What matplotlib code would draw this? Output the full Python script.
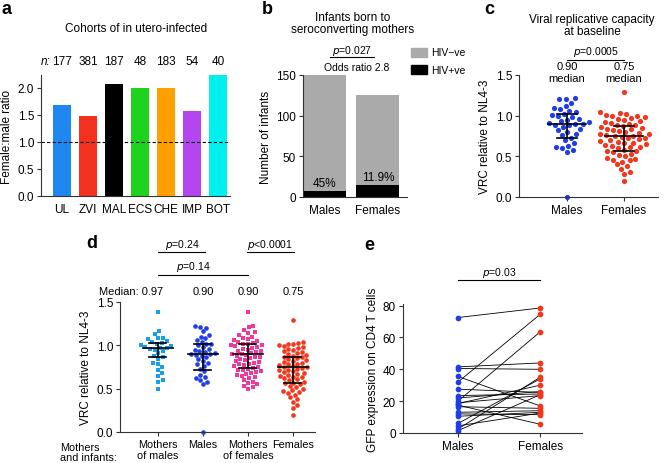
import numpy as np
import matplotlib
matplotlib.use("Agg")
import matplotlib.pyplot as plt
import matplotlib.transforms as mtransforms
from matplotlib.patches import Rectangle

plt.rcParams['font.family'] = ['Liberation Sans', 'DejaVu Sans']
plt.rcParams['axes.linewidth'] = 0.8

# ---------------- data ----------------
# panel a
cohorts = ["UL", "ZVI", "MAL", "ECS", "CHE", "IMP", "BOT"]
cohort_n = [177, 381, 187, 48, 183, 54, 40]
fm_ratio = [1.68, 1.49, 2.07, 2.00, 2.00, 1.57, 2.26]
cohort_colors = ["#1e88f0", "#f2321e", "#000000", "#1ed21e", "#ffa000", "#b446f0", "#00f0f0"]

# panel b
b_groups = ["Males", "Females"]
b_total = [150, 126]
b_pos = [7, 15]
b_pct = ["45%", "11.9%"]

# panel c / d  (VRC values)
vrc_males = [1.22, 1.21, 1.20, 1.16, 1.12, 1.10, 1.08, 1.06, 1.04, 1.02, 1.01, 1.00,
             0.98, 0.96, 0.95, 0.93, 0.92, 0.91, 0.90, 0.90, 0.89, 0.88, 0.86, 0.84,
             0.82, 0.80, 0.78, 0.76, 0.73, 0.70, 0.66, 0.63, 0.62, 0.60, 0.58, 0.55, 0.0]
vrc_females = [1.29, 1.04, 1.03, 1.02, 1.01, 1.00, 0.99, 0.98, 0.97, 0.96, 0.95, 0.93,
               0.92, 0.91, 0.90, 0.89, 0.88, 0.87, 0.86, 0.85, 0.84, 0.83, 0.82, 0.81,
               0.80, 0.79, 0.78, 0.77, 0.76, 0.75, 0.75, 0.74, 0.73, 0.72, 0.71, 0.70,
               0.69, 0.68, 0.67, 0.66, 0.65, 0.64, 0.63, 0.62, 0.61, 0.60, 0.58, 0.57,
               0.56, 0.55, 0.53, 0.52, 0.50, 0.48, 0.47, 0.46, 0.45, 0.43, 0.40, 0.38,
               0.35, 0.31, 0.28, 0.20]
vrc_mothers_m = [1.38, 1.17, 1.13, 1.09, 1.08, 1.07, 1.05, 1.04, 1.03, 1.02, 1.00, 0.99,
                 0.98, 0.97, 0.97, 0.96, 0.95, 0.93, 0.91, 0.88, 0.86, 0.84, 0.80, 0.78,
                 0.75, 0.72, 0.68, 0.65, 0.60, 0.58, 0.50]
vrc_mothers_f = [1.38, 1.22, 1.21, 1.18, 1.15, 1.14, 1.12, 1.10, 1.08, 1.07, 1.06, 1.05,
                 1.04, 1.03, 1.02, 1.01, 1.00, 1.00, 0.99, 0.98, 0.97, 0.96, 0.95, 0.94,
                 0.93, 0.92, 0.91, 0.90, 0.90, 0.89, 0.88, 0.87, 0.86, 0.85, 0.84, 0.83,
                 0.82, 0.81, 0.80, 0.79, 0.78, 0.77, 0.76, 0.75, 0.74, 0.73, 0.72, 0.71,
                 0.70, 0.69, 0.68, 0.67, 0.66, 0.65, 0.63, 0.62, 0.60, 0.58, 0.56, 0.55,
                 0.53, 0.52, 0.50]

c_groups = ["Males", "Females"]
c_median = [0.90, 0.75]
c_q1 = [0.72, 0.56]
c_q3 = [1.02, 0.87]
c_median_txt = ["0.90", "0.75"]

d_groups = ["Mothers\nof males", "Males", "Mothers\nof females", "Females"]
d_median = [0.97, 0.90, 0.90, 0.75]
d_q1 = [0.86, 0.72, 0.74, 0.56]
d_q3 = [1.03, 1.02, 1.01, 0.87]
d_median_txt = ["Median: 0.97", "0.90", "0.90", "0.75"]

# panel e (paired)
e_groups = ["Males", "Females"]
gfp_males = [72.5, 41.5, 40.5, 35.5, 32.0, 27.5, 23.5, 22.0, 20.0, 19.0, 18.5, 17.5,
             16.5, 13.0, 12.0, 10.5, 6.0, 4.5, 2.5, 1.5]
gfp_females = [78.5, 44.0, 40.0, 17.0, 74.5, 25.5, 24.5, 26.0, 63.5, 23.5, 30.0, 5.5,
               15.5, 14.0, 11.5, 13.0, 34.0, 12.5, 35.0, 24.0]

BLUE = "#1f3de8"
RED = "#f2371c"
LBLUE = "#1aa0e8"
PINK = "#f0399b"
SPINE = "#333333"
FS = 8.5

W, H = 665, 464
fig = plt.figure(figsize=(W / 100, H / 100), dpi=100)


def add_ax(left, right, top, bottom):
    return fig.add_axes([left / W, 1 - bottom / H, (right - left) / W, (bottom - top) / H])


def px(x, y):
    return x / W, 1 - y / H


def style(ax, xticks=True):
    for s in ["top", "right"]:
        ax.spines[s].set_visible(False)
    for s in ["left", "bottom"]:
        ax.spines[s].set_color(SPINE)
    ax.tick_params(axis='both', labelsize=FS, length=3, width=0.8, color=SPINE, pad=2)
    if not xticks:
        ax.tick_params(axis='x', length=0, pad=5)


def swarm(values, diam_px, px_per_y, px_per_x):
    vals = np.asarray(values, float)
    order = np.argsort(vals)
    ys = vals * px_per_y
    placed = []
    xs = np.zeros(len(vals))
    for i in order:
        y = ys[i]
        neigh = [(xx, yy) for xx, yy in placed if abs(yy - y) < diam_px]
        cands = [0.0]
        for xx, yy in neigh:
            dx = np.sqrt(max(diam_px ** 2 - (yy - y) ** 2, 0))
            cands += [xx + dx, xx - dx]
        cands = sorted(cands, key=abs)
        for c in cands:
            if all((c - xx) ** 2 + (y - yy) ** 2 >= diam_px ** 2 - 1e-6 for xx, yy in neigh):
                xs[i] = c
                break
        placed.append((xs[i], y))
    return xs / px_per_x


def label(x, y, s):
    fig.text(*px(x, y), s, fontsize=13, fontweight='bold', ha='left', va='center')


# ---------------- panel a ----------------
axa = add_ax(41, 230, 76, 197)
xa = np.arange(len(cohorts))
axa.bar(xa, fm_ratio, width=0.67, color=cohort_colors)
axa.axhline(1.0, color='black', lw=0.8, ls=(0, (3, 2)))
axa.set_xlim(-0.81, 6.46)
axa.set_ylim(0, 2.24)
axa.set_yticks([0, 0.5, 1.0, 1.5, 2.0])
axa.set_yticklabels(["0.0", "0.5", "1.0", "1.5", "2.0"])
axa.set_xticks(xa)
axa.set_xticklabels(cohorts)
style(axa, xticks=False)
axa.set_ylabel("Female:male ratio", fontsize=FS, labelpad=3)
trans_a = mtransforms.blended_transform_factory(axa.transData, axa.transAxes)
for i, n in enumerate(cohort_n):
    axa.text(i, 1.115, str(n), transform=trans_a, ha='center', va='center', fontsize=FS)
axa.text(-0.46, 1.115, "n:", transform=trans_a, ha='right', va='center', fontsize=FS, style='italic')
fig.text(*px(136, 29), "Cohorts of in utero-infected", fontsize=FS, ha='center', va='center')
label(2, 10, "a")

# ---------------- panel b ----------------
axb = add_ax(303, 407, 76, 198)
xb = np.arange(len(b_groups))
neg = [t - p for t, p in zip(b_total, b_pos)]
axb.bar(xb, b_pos, width=0.81, color='black')
axb.bar(xb, neg, bottom=b_pos, width=0.81, color='#aaaaaa')
axb.set_xlim(-0.415, 1.55)
axb.set_ylim(0, 150)
axb.set_yticks([0, 50, 100, 150])
axb.set_xticks(xb)
axb.set_xticklabels(b_groups)
style(axb, xticks=False)
axb.set_ylabel("Number of infants", fontsize=FS, labelpad=3)
for i in range(len(b_groups)):
    axb.text(i, b_pos[i] + 2.5, b_pct[i], ha='center', va='bottom', fontsize=FS)
fig.text(*px(353, 24), "Infants born to\nseroconverting mothers", fontsize=FS,
         ha='center', va='center', linespacing=1.1)
tb = mtransforms.blended_transform_factory(axb.transData, fig.transFigure)
axb.plot([0.1, 0.93], [1 - 58 / H] * 2, color='black', lw=0.8, transform=tb, clip_on=False)
fig.text(*px(352, 51), "$p$=0.027", fontsize=7.5, ha='center', va='center')
fig.text(*px(357, 68), "Odds ratio 2.8", fontsize=7.5, ha='center', va='center')
fig.patches.append(Rectangle(px(411, 58), 16 / W, 9 / H, color='#aaaaaa', transform=fig.transFigure))
fig.patches.append(Rectangle(px(411, 75), 16 / W, 9 / H, color='black', transform=fig.transFigure))
fig.text(*px(431, 53), "HIV\u2212ve", fontsize=7.5, ha='left', va='center')
fig.text(*px(431, 71), "HIV+ve", fontsize=7.5, ha='left', va='center')
label(262, 9, "b")

# ---------------- panel c ----------------
axc = add_ax(519, 658, 76, 198)
ppy_c = 122 / 1.5
ppx_c = 57.0
for i, (vals, col) in enumerate([(vrc_males, BLUE), (vrc_females, RED)]):
    off = swarm(vals, 6.2, ppy_c, ppx_c)
    axc.scatter(i + off, vals, s=14, color=col, linewidths=0, zorder=2, clip_on=False)
    axc.plot([i - 0.33, i + 0.33], [c_median[i]] * 2, color='black', lw=1.2, zorder=3)
    axc.plot([i, i], [c_q1[i], c_q3[i]], color='black', lw=1.2, zorder=3)
    for q in (c_q1[i], c_q3[i]):
        axc.plot([i - 0.18, i + 0.18], [q, q], color='black', lw=1.2, zorder=3)
    axc.text(i, 1.5 + 0.04, c_median_txt[i] + "\nmedian", ha='center', va='center',
             fontsize=8, linespacing=1.2)
axc.set_xlim(-0.84, 1.6)
axc.set_ylim(0, 1.5)
axc.set_yticks([0, 0.5, 1.0, 1.5])
axc.set_yticklabels(["0.0", "0.5", "1.0", "1.5"])
axc.set_xticks([0, 1])
axc.set_xticklabels(c_groups)
style(axc)
axc.set_ylabel("VRC relative to NL4-3", fontsize=FS, labelpad=3)
fig.text(*px(592, 26), "Viral replicative capacity\nat baseline", fontsize=FS,
         ha='center', va='center', linespacing=1.1)
tc = mtransforms.blended_transform_factory(axc.transData, fig.transFigure)
axc.plot([0, 1], [1 - 61 / H] * 2, color='black', lw=0.8, transform=tc, clip_on=False)
fig.text(*px(596, 52), "$p$=0.0005", fontsize=7.5, ha='center', va='center')
label(484, 10, "c")

# ---------------- panel d ----------------
axd = add_ax(120, 315, 303, 433)
ppy_d = 130 / 1.5
ppx_d = 45.0
d_sets = [(vrc_mothers_m, LBLUE, 's'), (vrc_males, BLUE, 'o'),
          (vrc_mothers_f, PINK, 's'), (vrc_females, RED, 'o')]
for i, (vals, col, mk) in enumerate(d_sets):
    off = swarm(vals, 5.0, ppy_d, ppx_d)
    axd.scatter(i + off, vals, s=11, color=col, marker=mk, linewidths=0, zorder=2, clip_on=False)
    axd.plot([i - 0.33, i + 0.33], [d_median[i]] * 2, color='black', lw=1.2, zorder=3)
    axd.plot([i, i], [d_q1[i], d_q3[i]], color='black', lw=1.2, zorder=3)
    for q in (d_q1[i], d_q3[i]):
        axd.plot([i - 0.19, i + 0.19], [q, q], color='black', lw=1.2, zorder=3)
axd.set_xlim(-0.84, 3.49)
axd.set_ylim(0, 1.5)
axd.set_yticks([0, 0.5, 1.0, 1.5])
axd.set_yticklabels(["0.0", "0.5", "1.0", "1.5"])
axd.set_xticks(range(4))
axd.set_xticklabels(d_groups, linespacing=1.1)
style(axd)
axd.tick_params(axis='x', labelsize=7.8)
axd.set_ylabel("VRC relative to NL4-3", fontsize=FS, labelpad=3)
td = mtransforms.blended_transform_factory(axd.transData, fig.transFigure)
for i, s in enumerate(d_median_txt):
    if i == 0:
        axd.text(0.12, 1 - 292 / H, s, transform=td, ha='right', va='center', fontsize=8)
    else:
        axd.text(i, 1 - 292 / H, s, transform=td, ha='center', va='center', fontsize=8)
axd.plot([0, 1.05], [1 - 253 / H] * 2, color='black', lw=0.8, transform=td, clip_on=False)
axd.plot([1.98, 3.02], [1 - 253 / H] * 2, color='black', lw=0.8, transform=td, clip_on=False)
axd.plot([0, 2.0], [1 - 276 / H] * 2, color='black', lw=0.8, transform=td, clip_on=False)
fig.text(*px(182, 245), "$p$=0.24", fontsize=7.5, ha='center', va='center')
fig.text(*px(270, 245), "$p$<0.0001", fontsize=7.5, ha='center', va='center')
fig.text(*px(193, 267), "$p$=0.14", fontsize=7.5, ha='center', va='center')
fig.text(*px(60, 453), "Mothers\nand infants:", fontsize=7.8, ha='left', va='center',
         linespacing=1.1)
label(86, 244, "d")

# ---------------- panel e ----------------
axe = add_ax(403, 582, 305, 434)
for m, f in zip(gfp_males, gfp_females):
    axe.plot([0, 1], [m, f], color='black', lw=0.6, zorder=1)
axe.scatter(np.zeros(len(gfp_males)), gfp_males, s=17, color=BLUE, linewidths=0, zorder=2, clip_on=False)
axe.scatter(np.ones(len(gfp_females)), gfp_females, s=17, color=RED, linewidths=0, zorder=2, clip_on=False)
axe.set_xlim(-0.67, 1.51)
axe.set_ylim(0, 81)
axe.set_yticks([0, 20, 40, 60, 80])
axe.set_xticks([0, 1])
axe.set_xticklabels(e_groups)
style(axe)
axe.set_ylabel("GFP expression on CD4 T cells", fontsize=FS, labelpad=3)
te = mtransforms.blended_transform_factory(axe.transData, fig.transFigure)
axe.plot([0, 1], [1 - 281 / H] * 2, color='black', lw=0.8, transform=te, clip_on=False)
fig.text(*px(499, 273), "$p$=0.03", fontsize=7.5, ha='center', va='center')
label(364, 245, "e")

fig.savefig("out.png", dpi=100)
